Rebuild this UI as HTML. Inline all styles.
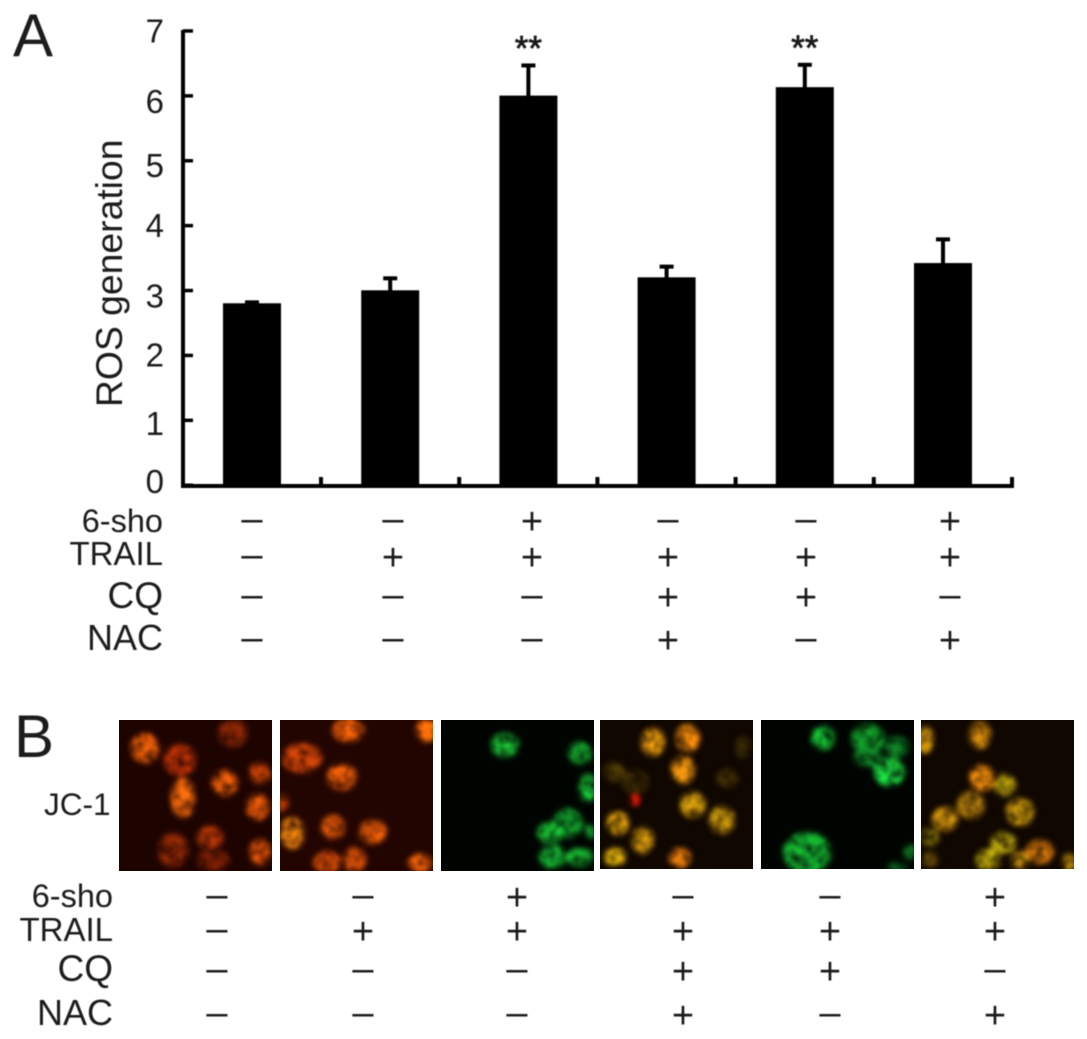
<!DOCTYPE html>
<html lang="en">
<head>
<meta charset="utf-8">
<title>ROS generation and JC-1 staining</title>
<style>
html,body{margin:0;padding:0;background:#fff;width:1087px;height:1039px;overflow:hidden}
svg{display:block}
text{font-family:"Liberation Sans",Arial,sans-serif;fill:#1a1a1a}
</style>
</head>
<body>
<svg id="figure" xmlns="http://www.w3.org/2000/svg" width="1087" height="1039" viewBox="0 0 1087 1039">
<defs>
<filter id="blur" filterUnits="userSpaceOnUse" x="100" y="700" width="987" height="190" color-interpolation-filters="sRGB">
<feGaussianBlur in="SourceGraphic" stdDeviation="2.6" result="b"/>
<feTurbulence type="fractalNoise" baseFrequency="0.09" numOctaves="2" seed="7" result="n"/>
<feColorMatrix in="n" type="matrix" values="0 0 0 0 1  0 0 0 0 1  0 0 0 0 1  1.6 0 0 0 -0.1" result="m"/>
<feComposite in="b" in2="m" operator="arithmetic" k1="0.9" k2="0.15" k3="0" k4="0" result="t"/>
<feGaussianBlur in="t" stdDeviation="1.1"/>
</filter>
<filter id="soft" filterUnits="userSpaceOnUse" x="0" y="0" width="1087" height="1039"><feGaussianBlur stdDeviation="0.45"/></filter>
<clipPath id="c1"><rect x="119" y="720" width="153" height="151"/></clipPath>
<clipPath id="c2"><rect x="280" y="720" width="153" height="151"/></clipPath>
<clipPath id="c3"><rect x="441" y="720" width="153" height="151"/></clipPath>
<clipPath id="c4"><rect x="600" y="720" width="153" height="149"/></clipPath>
<clipPath id="c5"><rect x="761" y="720" width="153" height="149"/></clipPath>
<clipPath id="c6"><rect x="921" y="720" width="153" height="149"/></clipPath>
</defs>

<text x="13" y="56" font-size="60" filter="url(#soft)">A</text>
<text x="14" y="757" font-size="60" filter="url(#soft)">B</text>

<g id="chart" filter="url(#soft)"></g>
<g id="table-a" filter="url(#soft)"></g>

<text x="44" y="815" font-size="31.5" filter="url(#soft)">JC-1</text>

<g clip-path="url(#c1)">
<rect x="119" y="720" width="153" height="151" fill="#1e0400"/>
<g filter="url(#blur)">
<ellipse cx="145" cy="748" rx="14" ry="15" fill="#f06008"/>
<ellipse cx="180" cy="760" rx="16" ry="16" fill="#b83006"/>
<ellipse cx="233" cy="733" rx="15" ry="14" fill="#842404"/>
<ellipse cx="183" cy="798" rx="12" ry="20" fill="#f46a0a"/>
<ellipse cx="225" cy="783" rx="13" ry="13" fill="#e85c08"/>
<ellipse cx="260" cy="773" rx="11" ry="11" fill="#b83c06"/>
<ellipse cx="258" cy="807" rx="12" ry="13" fill="#e85808"/>
<ellipse cx="210" cy="838" rx="13" ry="12" fill="#b83606"/>
<ellipse cx="173" cy="850" rx="15" ry="17" fill="#902804"/>
<ellipse cx="260" cy="852" rx="11" ry="13" fill="#dc5008"/>
<ellipse cx="213" cy="860" rx="16" ry="11" fill="#802004"/>
</g>
</g>

<g clip-path="url(#c2)">
<rect x="280" y="720" width="153" height="151" fill="#220500"/>
<g filter="url(#blur)">
<ellipse cx="348" cy="730" rx="16" ry="12" fill="#f06008"/>
<ellipse cx="427" cy="730" rx="11" ry="12" fill="#f86c0a"/>
<ellipse cx="302" cy="758" rx="20" ry="15" fill="#cc4208"/>
<ellipse cx="342" cy="777" rx="15" ry="13" fill="#e85c08"/>
<ellipse cx="292" cy="833" rx="12" ry="16" fill="#f88c10"/>
<ellipse cx="333" cy="827" rx="12" ry="12" fill="#e85c08"/>
<ellipse cx="373" cy="832" rx="14" ry="12" fill="#e85c08"/>
<ellipse cx="327" cy="862" rx="14" ry="11" fill="#d84c08"/>
<ellipse cx="355" cy="860" rx="11" ry="13" fill="#e05408"/>
<ellipse cx="420" cy="863" rx="12" ry="9" fill="#f06008"/>
<ellipse cx="282" cy="803" rx="6" ry="9" fill="#b83c06"/>
</g>
</g>

<g clip-path="url(#c3)">
<rect x="441" y="720" width="153" height="151" fill="#000400"/>
<g filter="url(#blur)">
<ellipse cx="505" cy="745" rx="14" ry="12" fill="#1cc838"/>
<ellipse cx="580" cy="753" rx="12" ry="11" fill="#16b030"/>
<ellipse cx="588" cy="788" rx="9" ry="14" fill="#18c034"/>
<ellipse cx="568" cy="823" rx="15" ry="15" fill="#109028"/>
<ellipse cx="550" cy="833" rx="13" ry="11" fill="#18c034"/>
<ellipse cx="553" cy="857" rx="14" ry="12" fill="#14a82e"/>
<ellipse cx="580" cy="857" rx="14" ry="9" fill="#18b630"/>
<ellipse cx="590" cy="832" rx="6" ry="7" fill="#14a82e"/>
</g>
</g>

<g clip-path="url(#c4)">
<rect x="600" y="720" width="153" height="149" fill="#100700"/>
<g filter="url(#blur)">
<ellipse cx="653" cy="742" rx="12" ry="14" fill="#e89a0c"/>
<ellipse cx="688" cy="738" rx="12" ry="14" fill="#f0880a"/>
<ellipse cx="683" cy="770" rx="12" ry="14" fill="#e8900c"/>
<ellipse cx="693" cy="805" rx="13" ry="13" fill="#cc960c"/>
<ellipse cx="722" cy="820" rx="13" ry="14" fill="#bc8e0c"/>
<ellipse cx="618" cy="823" rx="11" ry="12" fill="#d89c0c"/>
<ellipse cx="643" cy="840" rx="11" ry="14" fill="#cc920c"/>
<ellipse cx="615" cy="857" rx="11" ry="9" fill="#e0b00c"/>
<ellipse cx="680" cy="858" rx="11" ry="10" fill="#e87c0c"/>
<ellipse cx="635" cy="800" rx="5" ry="6" fill="#f01808"/>
<ellipse cx="615" cy="772" rx="11" ry="10" fill="#4c3804"/>
<ellipse cx="635" cy="782" rx="14" ry="12" fill="#382804"/>
<ellipse cx="727" cy="778" rx="11" ry="9" fill="#483404"/>
<ellipse cx="743" cy="747" rx="8" ry="11" fill="#382a04"/>
</g>
</g>

<g clip-path="url(#c5)">
<rect x="761" y="720" width="153" height="149" fill="#000400"/>
<g filter="url(#blur)">
<ellipse cx="823" cy="738" rx="12" ry="12" fill="#14b832"/>
<ellipse cx="868" cy="738" rx="17" ry="14" fill="#12a42c"/>
<ellipse cx="897" cy="747" rx="12" ry="11" fill="#0e7c24"/>
<ellipse cx="868" cy="757" rx="15" ry="10" fill="#0e7c24"/>
<ellipse cx="889" cy="772" rx="16" ry="14" fill="#1cd840"/>
<ellipse cx="807" cy="853" rx="24" ry="21" fill="#14b030"/>
<ellipse cx="910" cy="852" rx="6" ry="8" fill="#0e8024"/>
<ellipse cx="897" cy="867" rx="10" ry="5" fill="#0a581c"/>
</g>
</g>

<g clip-path="url(#c6)">
<rect x="921" y="720" width="153" height="149" fill="#100700"/>
<g filter="url(#blur)">
<ellipse cx="925" cy="740" rx="9" ry="14" fill="#cc920c"/>
<ellipse cx="980" cy="735" rx="11" ry="14" fill="#cc860c"/>
<ellipse cx="982" cy="778" rx="13" ry="13" fill="#f08c0c"/>
<ellipse cx="1005" cy="785" rx="11" ry="11" fill="#a8920c"/>
<ellipse cx="971" cy="805" rx="14" ry="14" fill="#ac780c"/>
<ellipse cx="945" cy="819" rx="13" ry="12" fill="#d4960c"/>
<ellipse cx="1020" cy="812" rx="14" ry="14" fill="#cc9a0c"/>
<ellipse cx="930" cy="837" rx="9" ry="9" fill="#80700a"/>
<ellipse cx="1003" cy="843" rx="13" ry="11" fill="#ac980c"/>
<ellipse cx="1040" cy="852" rx="14" ry="12" fill="#dc7c0c"/>
<ellipse cx="988" cy="860" rx="12" ry="11" fill="#c8b40c"/>
<ellipse cx="1020" cy="860" rx="9" ry="9" fill="#bc880c"/>
<ellipse cx="1070" cy="862" rx="7" ry="9" fill="#d49c0c"/>
<ellipse cx="930" cy="860" rx="8" ry="8" fill="#644808"/>
</g>
</g>

<g id="table-b" filter="url(#soft)"></g>
</svg>

<script>
var categories = ["control", "trail", "6-sho-trail", "trail-cq-nac", "trail-cq", "6-sho-trail-nac"];
var rosValues = [2.8, 3.0, 6.0, 3.2, 6.13, 3.42];
var rosErrors = [0.03, 0.2, 0.48, 0.18, 0.36, 0.38];
var significance = ["", "", "**", "", "**", ""];
var yTickValues = [0, 1, 2, 3, 4, 5, 6, 7];
var yTickLabels = ["0", "1", "2", "3", "4", "5", "6", "7"];
var axisTitle = "ROS generation";
var rowNames = ["6-sho", "TRAIL", "CQ", "NAC"];
var row6sho = ["-", "-", "+", "-", "-", "+"];
var rowTrail = ["-", "+", "+", "+", "+", "+"];
var rowCq = ["-", "-", "-", "+", "+", "-"];
var rowNac = ["-", "-", "-", "+", "-", "+"];

var SVGNS = "http://www.w3.org/2000/svg";
function yScale(v) { return 485 - v * 64.9; }
function xCenter(i) { return 252 + i * 138.2; }
var barWidth = 58;
/* hand-placed label drift seen in the figure, in px below the fitted label line */
var labelDrift = [0, 6, 2, 7, 1, 5, 5, -1];
function labelBaseline(v, i) { return 493 - v * 64.2 + labelDrift[i]; }

function make(parent, tag, attrs, text) {
  var el = document.createElementNS(SVGNS, tag);
  for (var k in attrs) { el.setAttribute(k, attrs[k]); }
  if (text !== undefined) { el.textContent = text; }
  parent.appendChild(el);
  return el;
}

var chart = document.getElementById("chart");

categories.forEach(function (cat, i) {
  var cx = xCenter(i);
  var top = yScale(rosValues[i]);
  var errTop = yScale(rosValues[i] + rosErrors[i]);
  var stem = make(chart, "rect", {x: cx - 2, y: errTop, width: 4, height: top - errTop + 1, fill: "#000"});
  
  
  var cap = make(chart, "rect", {x: cx - 7, y: errTop - 1, width: 14, height: 4, fill: "#000"});
  
  
  var bar = make(chart, "rect", {x: cx - barWidth / 2, y: top, width: barWidth, height: 485 - top, fill: "#000"});
  
  
  if (significance[i]) {
    var star = make(chart, "text", {x: cx, y: errTop - 4, "font-size": 35, "text-anchor": "middle", stroke: "#1a1a1a", "stroke-width": 0.7}, significance[i]);
    
    
  }
  var xTick = make(chart, "rect", {x: cx + 67, y: 477, width: 4, height: 9, fill: "#000"});
  
  
});

var yAxis = make(chart, "rect", {x: 181, y: 30, width: 4, height: 458, fill: "#000"});


var xAxis = make(chart, "rect", {x: 181, y: 484, width: 833, height: 4, fill: "#000"});



yTickValues.forEach(function (v, i) {
  var y = yScale(v);
  var tick = make(chart, "rect", {x: 183, y: y - 1.5, width: 10, height: 3.5, fill: "#000"});
  
  
  var label = make(chart, "text", {x: 164, y: labelBaseline(v, i), "font-size": 33, "text-anchor": "end"}, yTickLabels[i]);
  
  
});

var title = make(chart, "text", {transform: "translate(122,407) rotate(-90)", "font-size": 37.3}, axisTitle);



var rows = [row6sho, rowTrail, rowCq, rowNac];
var nameSizes = [32.5, 33, 37, 36];

function drawTable(groupId, nameRight, columns, centers, baselines) {
  var g = document.getElementById(groupId);
  rows.forEach(function (row, r) {
    var name = make(g, "text", {x: nameRight, y: baselines[r], "font-size": nameSizes[r], "text-anchor": "end"}, rowNames[r]);
    
    
    row.forEach(function (sym, c) {
      var plus = sym === "+";
      var mark = make(g, "text", {
        x: columns[c],
        y: centers[r] + (plus ? 13 : 10),
        "font-size": 38,
        "text-anchor": "middle",
        fill: "#333"
      }, plus ? "+" : "\u2013");
      
      
    });
  });
}

drawTable("table-a", 163, [252, 393, 532, 668, 806, 950], [521, 557, 597, 640], [532, 565, 608, 650]);
drawTable("table-b", 113, [217, 363, 517, 683, 830, 995], [897, 931, 971, 1015], [907, 941, 981, 1025]);
</script>
</body>
</html>
